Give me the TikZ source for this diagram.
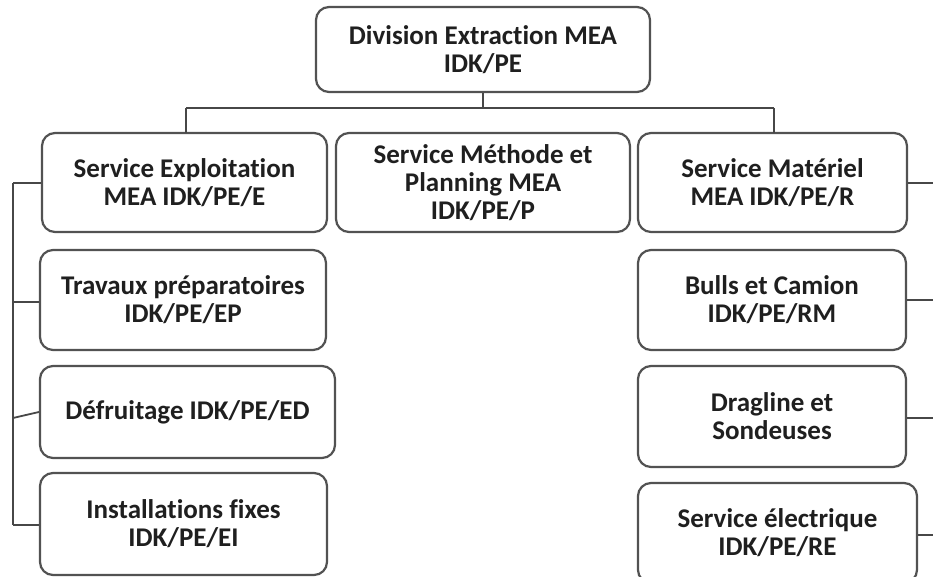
\documentclass[tikz,border=0pt]{standalone}
\usepackage{fontspec}
\setmainfont{Carlito}[Ligatures=NoCommon]
\begin{document}
\begin{tikzpicture}[x=1pt,y=-1pt,
  unit/.style={draw=black!68, line width=2.2pt, rounded corners=13pt, fill=white,
    align=center, inner sep=0pt, text=black!88,
    font=\fontsize{27}{28}\selectfont\bfseries},
  link/.style={draw=black!72, line width=1.8pt}]
\useasboundingbox (0,0) rectangle (933,577);
\clip (0,0) rectangle (933,577);

% head of the division
\node[unit, minimum width=334pt, minimum height=85pt] (top) at (483,49.5)
  {Division Extraction MEA\\IDK/PE};

% the three services
\node[unit, minimum width=285pt, minimum height=99pt] (se) at (184.5,182.5)
  {Service Exploitation\\MEA IDK/PE/E};
\node[unit, minimum width=294pt, minimum height=99pt] (sm) at (483,182.5)
  {Service Méthode et\\Planning MEA\\IDK/PE/P};
\node[unit, minimum width=269pt, minimum height=99pt] (sr) at (772.5,182.5)
  {Service Matériel\\MEA IDK/PE/R};

% units under the exploitation service
\node[unit, minimum width=286pt, minimum height=100pt] (tp) at (183,300)
  {Travaux préparatoires\\IDK/PE/EP};
\node[unit, minimum width=295pt, minimum height=92pt] (df) at (187.5,412)
  {Défruitage IDK/PE/ED};
\node[unit, minimum width=287pt, minimum height=102pt] (inst) at (183.5,524)
  {Installations fixes\\IDK/PE/EI};

% units under the equipment service
\node[unit, minimum width=268pt, minimum height=100pt] (bc) at (772,300)
  {Bulls et Camion\\IDK/PE/RM};
\node[unit, minimum width=268pt, minimum height=101pt] (dr) at (772,416.5)
  {Dragline et\\Sondeuses};
\node[unit, minimum width=279pt, minimum height=100pt] (el) at (777.5,533)
  {Service électrique\\IDK/PE/RE};

% bus from the head to the services
\coordinate (busY) at (0,108);
\draw[link] (top.south) -- (top.south |- busY);
\draw[link] (186,108) -- (774,108);
\draw[link] (186,108) -- (186,133);
\draw[link] (774,108) -- (774,133);

% left side bus
\coordinate (lt) at (13,183);
\coordinate (lb) at (13,525);
\draw[link] (lt) -- (lb);
\draw[link] (lt) -- (se.west |- lt);
\draw[link] (13,302) -- (tp.west |- 0,302);
\draw[link] (13,418) -- (df.west);
\draw[link] (lb) -- (inst.west |- lb);

% right side stubs, running off the edge
\draw[link] (sr.east |- 0,183) -- (934,183);
\draw[link] (bc.east) -- (934,300);
\draw[link] (dr.east |- 0,418) -- (934,418);
\draw[link] (el.east |- 0,535) -- (934,535);
\end{tikzpicture}
\end{document}
